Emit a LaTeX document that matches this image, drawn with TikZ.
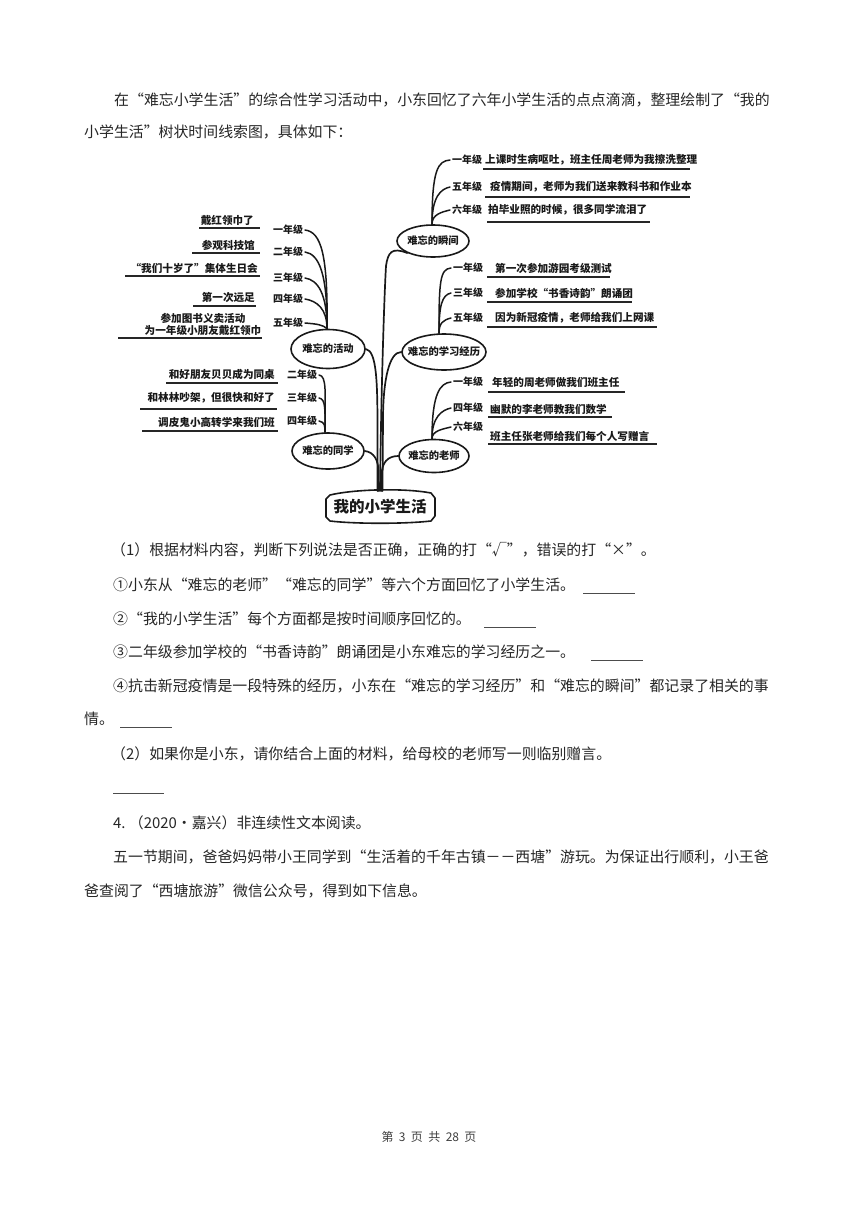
\documentclass[tikz,border=0pt]{standalone}
\usepackage{fontspec}
\usetikzlibrary{shapes.geometric}
\newfontfamily\cjk{Noto Sans CJK SC}
\newcommand\mybody{\cjk\fontsize{14.9}{18}\selectfont}
\newcommand\mygrade{\cjk\bfseries\fontsize{10}{11}\selectfont}
\newcommand\myitem{\cjk\bfseries\fontsize{10.6}{12}\selectfont}
\newcommand\mytopic{\cjk\bfseries\fontsize{10.3}{12}\selectfont}
\newcommand\myroot{\cjk\bfseries\fontsize{15.5}{17}\selectfont}
\newcommand\oq{\makebox[1em][r]{“}}
\newcommand\cq{\makebox[1em][l]{”}}
\tikzset{
  body/.style={anchor=west, inner sep=0pt, font=\mybody, text=black!85},
  grade/.style={anchor=west, inner sep=0pt, outer sep=2pt, font=\mygrade, text=black!90},
  itemR/.style={anchor=west, inner sep=0pt, font=\myitem, text=black!90},
  itemL/.style={anchor=east, inner sep=0pt, font=\myitem, text=black!90},
  topic/.style={ellipse, draw=black!90, line width=1.6pt, inner xsep=-8pt, inner ysep=0pt, font=\mytopic, text=black!90},
  stem/.style={line width=1.5pt, line cap=round, draw=black!90},
  trunk/.style={line width=1.7pt, line cap=round, draw=black!90},
  uline/.style={line width=1.8pt, draw=black!85},
  blank/.style={line width=0.8pt, draw=black!70},
}
\begin{document}
\begin{tikzpicture}[x=1pt,y=-1pt]
\fill[white] (0,0) rectangle (860,1216);
\useasboundingbox (0,0) rectangle (860,1216);

% ---------- intro text ----------
\node[body] (p1) at (114,100) {在\oq 难忘小学生活\cq 的综合性学习活动中，小东回忆了六年小学生活的点点滴滴，整理绘制了\oq 我的};
\node[body] (p2) at (84,132) {小学生活\cq 树状时间线索图，具体如下：};

% ---------- root ----------
\node[font=\myroot, text=black!90, inner sep=0pt] (root) at (380,507) {我的小学生活};
\draw[line width=1.6pt, line join=round, draw=black!90] (326,499) -- (330,495) .. controls (355,489) and (405,488) .. (431,493) -- (435,498) -- (435,516) -- (431,521) .. controls (405,524) and (355,524) .. (330,521) -- (326,517) -- cycle;
\coordinate (rt) at (380,491);

% ---------- topics ----------
\node[topic, minimum width=74pt, minimum height=39pt] (hd) at (328,349) {难忘的活动};
\node[topic, minimum width=72pt, minimum height=32pt] (sj) at (433,241) {难忘的瞬间};
\node[topic, minimum width=84pt, minimum height=36pt] (xx) at (444,352) {难忘的学习经历};
\node[topic, minimum width=72pt, minimum height=36pt] (tx) at (328,451) {难忘的同学};
\node[topic, minimum width=70pt, minimum height=33pt] (ls) at (434,456) {难忘的老师};

% ---------- trunk ----------
\draw[trunk] (rt) .. controls (381,400) and (384,300) .. (386,266) .. controls (388,252) and (392,247) .. (sj.205);
\draw[trunk] (hd.east) .. controls +(11,2) and +(0,-50) .. (377.5,432) -- ([xshift=-2.5pt]rt);
\draw[trunk] (xx.west) .. controls +(-12,0) and +(0,-40) .. (383,420) -- ([xshift=2.5pt]rt);
\draw[trunk] (tx.east) .. controls +(9,1) and +(0,-12) .. (378.5,472) -- ([xshift=-1.2pt]rt);
\draw[trunk] (ls.west) .. controls +(-10,0) and +(0,-14) .. (381.5,476) -- ([xshift=1.2pt]rt);

% ---------- 难忘的活动 ----------
\node[grade] (a1) at (271,230) {一年级};
\node[grade] (a2) at (271,252) {二年级};
\node[grade] (a3) at (271,278) {三年级};
\node[grade] (a4) at (271,299) {四年级};
\node[grade] (a5) at (271,323) {五年级};
\coordinate (hj) at ([xshift=-1pt]hd.north);
\draw[stem] (a1.east) .. controls +(16,2) and +(1,-75) .. (hj);
\draw[stem] (a2.east) .. controls +(14,2) and +(0.5,-55) .. (hj);
\draw[stem] (a3.east) .. controls +(13,2) and +(0,-35) .. (hj);
\draw[stem] (a4.east) .. controls +(12,2) and +(0,-20) .. (hj);
\draw[stem] (a5.east) .. controls +(12,1) and +(-4,-4) .. (hj);
\node[itemL] (ah1) at (254,220) {戴红领巾了};
\node[itemL] (ah2) at (255,245) {参观科技馆};
\node[itemL] (ah3) at (258,268) {\oq 我们十岁了\cq 集体生日会};
\node[itemL] (ah4) at (255,297) {第一次远足};
\node[font=\myitem, text=black!90, inner sep=0pt, align=center] (ah5) at (203,324) {参加图书义卖活动\\为一年级小朋友戴红领巾};
\draw[uline] (199,228) -- (260,228);
\draw[uline] (192,253) -- (260,253);
\draw[uline] (125,276) -- (260,276);
\draw[uline] (193,306) -- (256,306);
\draw[uline] (118,338) -- (262,338);

% ---------- 难忘的瞬间 ----------
\node[grade] (s1) at (450,160) {一年级};
\node[grade] (s2) at (450,187) {五年级};
\node[grade] (s3) at (450,210) {六年级};
\coordinate (sjn) at ([xshift=-1pt]sj.north);
\draw[stem] (sjn) .. controls +(0,-55) and +(-12,1) .. (s1.west);
\draw[stem] (sjn) .. controls +(0,-28) and +(-9,2) .. (s2.west);
\draw[stem] (sjn) .. controls +(0,-10) and +(-8,2) .. (s3.west);
\node[itemR] (sh1) at (485,160) {上课时生病呕吐，班主任周老师为我擦洗整理};
\node[itemR] (sh2) at (490,187) {疫情期间，老师为我们送来教科书和作业本};
\node[itemR] (sh3) at (488,210) {拍毕业照的时候，很多同学流泪了};
\draw[uline] (483,169) -- (690,169);
\draw[uline] (485,197) -- (690,197);
\draw[uline] (487,222) -- (650,222);

% ---------- 难忘的学习经历 ----------
\node[grade] (x1) at (451,268) {一年级};
\node[grade] (x2) at (451,293) {三年级};
\node[grade] (x3) at (451,318) {五年级};
\coordinate (xxn) at ([xshift=-5pt]xx.north);
\draw[stem] (xxn) .. controls +(0,-52) and +(-11,1) .. (x1.west);
\draw[stem] (xxn) .. controls +(0,-28) and +(-9,2) .. (x2.west);
\draw[stem] (xxn) .. controls +(0,-10) and +(-8,2) .. (x3.west);
\node[itemR] (xh1) at (495,268) {第一次参加游园考级测试};
\node[itemR] (xh2) at (495,293) {参加学校\oq 书香诗韵\cq 朗诵团};
\node[itemR] (xh3) at (495,318) {因为新冠疫情，老师给我们上网课};
\draw[uline] (487,277) -- (610,277);
\draw[uline] (487,302) -- (632,302);
\draw[uline] (487,327) -- (657,327);

% ---------- 难忘的老师 ----------
\node[grade] (l1) at (451,382) {一年级};
\node[grade] (l2) at (451,408) {四年级};
\node[grade] (l3) at (451,427) {六年级};
\coordinate (lsn) at ([xshift=-2pt]ls.north);
\draw[stem] (lsn) .. controls +(0,-45) and +(-11,1) .. (l1.west);
\draw[stem] (lsn) .. controls +(0,-22) and +(-9,2) .. (l2.west);
\draw[stem] (lsn) .. controls +(0,-8) and +(-8,2) .. (l3.west);
\node[itemR] (lh1) at (492,382) {年轻的周老师做我们班主任};
\node[itemR] (lh2) at (490,409) {幽默的李老师教我们数学};
\node[itemR] (lh3) at (490,436) {班主任张老师给我们每个人写赠言};
\draw[uline] (488,392) -- (625,392);
\draw[uline] (488,417) -- (612,417);
\draw[uline] (488,444) -- (657,444);

% ---------- 难忘的同学 ----------
\node[grade] (t1) at (285,375) {二年级};
\node[grade] (t2) at (285,398) {三年级};
\node[grade] (t3) at (285,421) {四年级};
\coordinate (txn) at ([xshift=-3pt]tx.north);
\draw[stem] (t1.east) .. controls +(8,1) and +(0,-40) .. (txn);
\draw[stem] (t2.east) .. controls +(7,1) and +(0,-22) .. (txn);
\draw[stem] (t3.east) .. controls +(6,1) and +(0,-6) .. (txn);
\node[itemL] (th1) at (275,374) {和好朋友贝贝成为同桌};
\node[itemL] (th2) at (275,398) {和林林吵架，但很快和好了};
\node[itemL] (th3) at (275,422) {调皮鬼小高转学来我们班};
\draw[uline] (166,383) -- (278,383);
\draw[uline] (140,409) -- (277,409);
\draw[uline] (142,431) -- (278,431);

% ---------- questions ----------
\node[body] (q1) at (111,550) {（1）根据材料内容，判断下列说法是否正确，正确的打\oq √\cq ，错误的打\oq ×\cq 。};
\node[body] (q2) at (113,585) {①小东从\oq 难忘的老师\cq\oq 难忘的同学\cq 等六个方面回忆了小学生活。};
\draw[blank] (583,593) -- (635,593);
\node[body] (q3) at (113,619) {②\oq 我的小学生活\cq 每个方面都是按时间顺序回忆的。};
\draw[blank] (484,627) -- (536,627);
\node[body] (q4) at (113,652) {③二年级参加学校的\oq 书香诗韵\cq 朗诵团是小东难忘的学习经历之一。};
\draw[blank] (591,660) -- (643,660);
\node[body] (q5) at (113,686) {④抗击新冠疫情是一段特殊的经历，小东在\oq 难忘的学习经历\cq 和\oq 难忘的瞬间\cq 都记录了相关的事};
\node[body] (q6) at (84,719) {情。};
\draw[blank] (120,727) -- (172,727);
\node[body] (q7) at (111,754) {（2）如果你是小东，请你结合上面的材料，给母校的老师写一则临别赠言。};
\draw[blank] (113,793) -- (164,793);
\node[body] (q8) at (113,823) {4.\ （2020•嘉兴）非连续性文本阅读。};
\node[body] (q9) at (113,857) {五一节期间，爸爸妈妈带小王同学到\oq 生活着的千年古镇－－西塘\cq 游玩。为保证出行顺利，小王爸};
\node[body] (q10) at (84,891) {爸查阅了\oq 西塘旅游\cq 微信公众号，得到如下信息。};

% ---------- footer ----------
\node[font=\cjk\fontsize{12}{14}\selectfont, text=black!75, inner sep=0pt] (ft) at (429,1137) {第\hspace{0.45em}3\hspace{0.45em}页\hspace{0.45em}共\hspace{0.45em}28\hspace{0.45em}页};
\end{tikzpicture}
\end{document}
